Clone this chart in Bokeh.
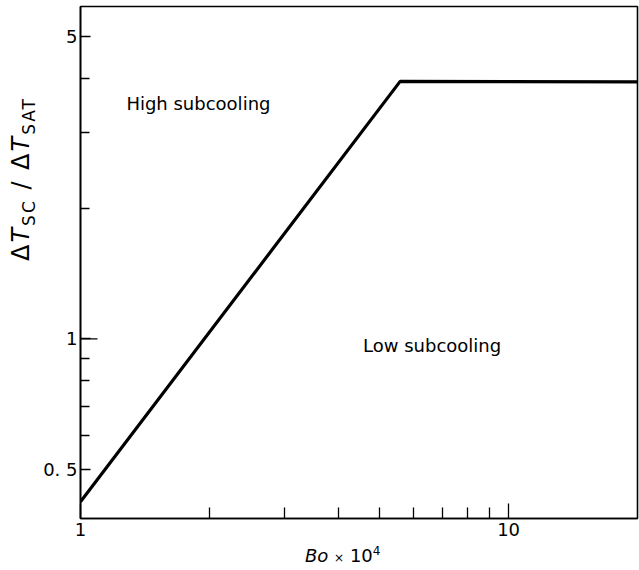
from bokeh.plotting import figure
from bokeh.models import FixedTicker, Div
from bokeh.layouts import row, column
from bokeh.core.properties import value
from bokeh.embed import file_html
from bokeh.resources import INLINE

# ---- data ----
bo_x = [1.0, 5.58, 20.0]          # Bo x 10^4
ratio_y = [0.421, 3.93, 3.92]     # dT_SC / dT_SAT
x_major = [1, 10]
x_minor = [2, 3, 4, 5, 6, 7, 8, 9]
y_major = [0.5, 1, 5]
y_minor = [0.6, 0.7, 0.8, 0.9, 2, 3, 4]
y_labels = {0.5: "0. 5", 1: "1", 5: "5"}
x_labels = {1: "1", 10: "10"}
region_text = ["High subcooling", "Low subcooling"]
region_x = [1.28, 4.57]
region_y = [3.49, 0.968]

FONT = "DejaVu Sans"
H = 545

p = figure(width=599, height=H, x_axis_type="log", y_axis_type="log",
           x_range=(1, 20), y_range=(0.385, 5.85),
           output_backend="svg", toolbar_location=None,
           min_border_left=39, min_border_right=2, min_border_top=6,
           min_border_bottom=27, margin=0)
p.grid.visible = False
p.background_fill_color = "white"
p.border_fill_color = "white"
p.outline_line_color = "black"
p.outline_line_width = 1.6

p.xaxis.ticker = FixedTicker(ticks=x_major, minor_ticks=x_minor)
p.yaxis.ticker = FixedTicker(ticks=y_major, minor_ticks=y_minor)
p.xaxis.major_label_overrides = x_labels
p.yaxis.major_label_overrides = y_labels
for ax in (p.xaxis, p.yaxis):
    ax.axis_line_color = "black"
    ax.axis_line_width = 1.6
    ax.major_tick_line_color = "black"
    ax.minor_tick_line_color = "black"
    ax.major_tick_line_width = 1.3
    ax.minor_tick_line_width = 1.3
    ax.major_tick_out = 0
    ax.minor_tick_out = 0
    ax.major_label_text_font = FONT
    ax.major_label_text_font_size = "18px"
    ax.major_label_text_color = "black"
p.xaxis.major_tick_in = 15
p.xaxis.minor_tick_in = 11
p.yaxis.major_tick_in = 10
p.yaxis.minor_tick_in = 9
p.xaxis.major_label_standoff = 4
p.yaxis.major_label_standoff = 3

# longer tick at y = 1
p.ray(x=[x_major[0]], y=[1], length=17, length_units="screen", angle=0,
      line_color="black", line_width=1.3)

p.line(bo_x, ratio_y, line_color="black", line_width=3.2)

p.text(x=region_x, y=region_y, text=region_text, text_font=value(FONT),
       text_font_size="18px", text_color="black", text_baseline="alphabetic",
       text_align="left")

ylab_html = (
    f'<div style="position:relative;width:40px;height:{H}px;margin:0;padding:0;">'
    '<div style="position:absolute;left:7px;top:261px;margin:0;padding:0;'
    'transform:rotate(-90deg);transform-origin:0 0;white-space:nowrap;'
    "font-family:'DejaVu Sans';font-size:24px;line-height:28px;"
    'letter-spacing:2px;color:black;">'
    'Δ<i>T</i><sub style="font-size:17px;line-height:0;">SC</sub> / '
    'Δ<i>T</i><sub style="font-size:17px;line-height:0;">SAT</sub>'
    '</div></div>'
)
ydiv = Div(text=ylab_html, width=40, height=H, margin=0,
           styles={"margin": "0", "padding": "0"})

xlab_html = (
    '<div style="position:relative;width:639px;height:25px;margin:0;padding:0;">'
    '<div style="position:absolute;left:305px;top:1px;white-space:nowrap;margin:0;'
    "font-family:'DejaVu Sans';font-size:18px;line-height:20px;color:black;\">"
    '<i>Bo</i> <span style="font-size:12px;">×</span> 10'
    '<sup style="font-size:12px;line-height:0;">4</sup>'
    '</div></div>'
)
xdiv = Div(text=xlab_html, width=639, height=570 - H, margin=0,
           styles={"margin": "0", "padding": "0"})

layout = column(row(ydiv, p, spacing=0, margin=0), xdiv, spacing=0, margin=0)

open("out.html", "w").write(file_html(layout, INLINE))
